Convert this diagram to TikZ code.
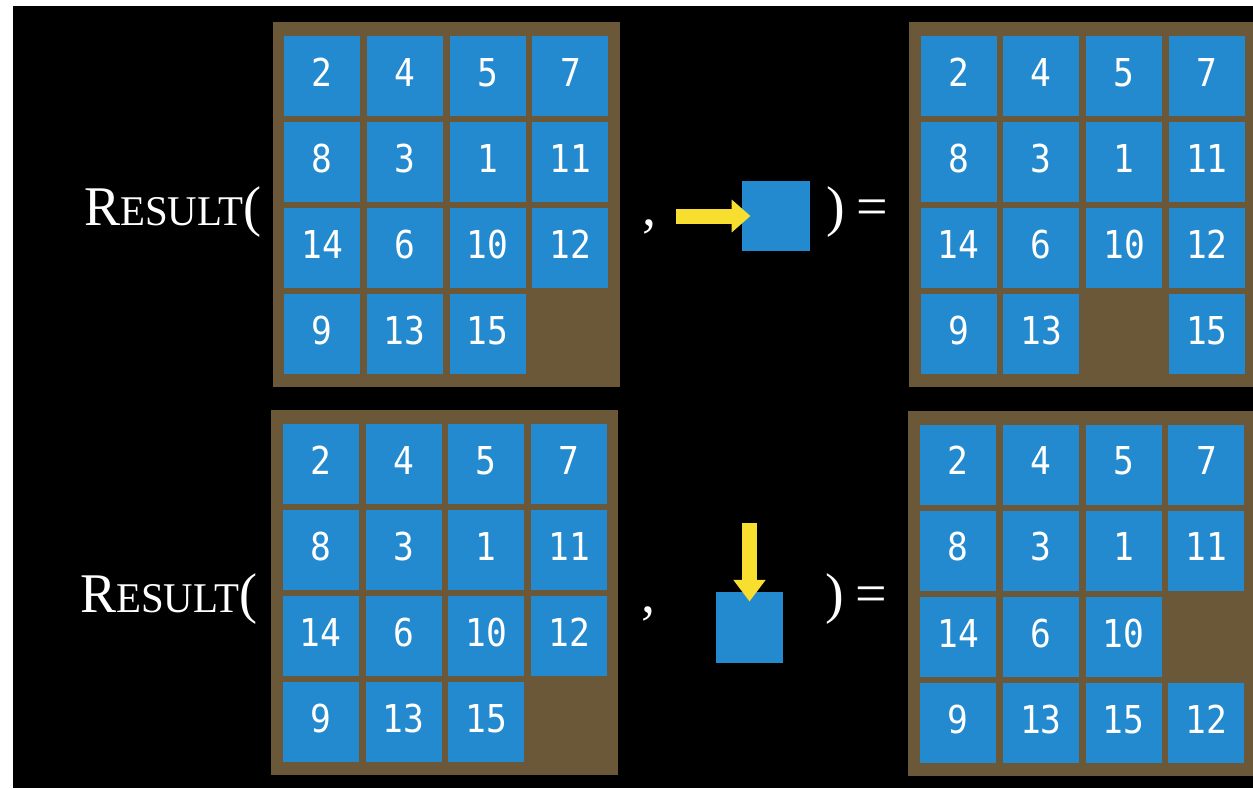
\documentclass[tikz,border=0pt]{standalone}
\usepackage{fontspec}
\usetikzlibrary{arrows.meta}
\newfontfamily\numfont[FakeStretch=0.9]{DejaVu Sans Mono}
\newfontfamily\eqfont{Liberation Serif}
\definecolor{tileblue}{RGB}{35,138,208}
\definecolor{boardbrown}{RGB}{106,88,56}
\definecolor{arrowyellow}{RGB}{248,222,46}
\newcommand\puzzleboard[6]{%
  \node[board] (#1) at (#2,#3) {};
  \foreach \n [count=\i from 0] in {#6} {
    \pgfmathtruncatemacro\rr{div(\i,4)}
    \pgfmathtruncatemacro\cc{mod(\i,4)}
    \ifnum\n=0\relax\else
      \node[tile] (#1-\rr-\cc) at ({#4+82.8*\cc},{#5+86.1*\rr}) {\n};
    \fi
  }%
}
\newcommand\resultword{\scalebox{0.965}[1]{{\fontsize{56pt}{60pt}\selectfont R}{\fontsize{42.3pt}{45pt}\selectfont ESULT}{\fontsize{56pt}{60pt}\selectfont (}}}
\begin{document}
\begin{tikzpicture}[x=1pt,y=-1pt,
  board/.style={fill=boardbrown, draw=none, inner sep=0pt, minimum width=347pt, minimum height=365pt},
  tile/.style={fill=tileblue, text=white, inner sep=0pt, minimum width=76pt, minimum height=80pt,
    font=\numfont\fontsize{38.4pt}{40pt}\selectfont, text height=28pt, text depth=7.4pt},
  movesq/.style={fill=tileblue, draw=none, inner sep=0pt},
  eqtext/.style={text=white, inner sep=0pt, font=\eqfont\fontsize{56pt}{60pt}\selectfont},
  yarrow/.style={draw=arrowyellow, line width=15pt, -{Triangle[length=19pt,width=32pt]}}
]
\useasboundingbox (0,0) rectangle (1253,788);
\fill[white] (0,0) rectangle (1253,788);
\fill[black] (13,6) rectangle (1253,788);
\begin{scope}
\clip (13,6) rectangle (1253,788);
% top row
\puzzleboard{TL}{446.5}{204.5}{322}{76}{2,4,5,7,8,3,1,11,14,6,10,12,9,13,15,0}
\puzzleboard{TR}{1082.5}{204.5}{958.5}{76}{2,4,5,7,8,3,1,11,14,6,10,12,9,13,0,15}
% bottom row
\puzzleboard{BL}{444.5}{592.5}{320.7}{464}{2,4,5,7,8,3,1,11,14,6,10,12,9,13,15,0}
\puzzleboard{BR}{1081.5}{593}{958}{464.5}{2,4,5,7,8,3,1,11,14,6,10,0,9,13,15,12}
\end{scope}
% equation texts, top
\node[eqtext, anchor=base west] (res1) at (84,225) {\resultword};
\node[eqtext, anchor=base west] (comma1) at (642,225) {,};
\node[eqtext, anchor=base west] (rp1) at (826.5,225) {)};
\node[eqtext, anchor=base west] (eq1) at (856,225) {=};
% equation texts, bottom
\node[eqtext, anchor=base west] (res2) at (80,612) {\resultword};
\node[eqtext, anchor=base west] (comma2) at (641,612) {,};
\node[eqtext, anchor=base west] (rp2) at (825,612) {)};
\node[eqtext, anchor=base west] (eq2) at (855,612) {=};
% move squares and arrows
\node[movesq, minimum width=68pt, minimum height=70pt] (sq1) at (776,216) {};
\coordinate (ha0) at (676,216);
\draw[yarrow] (ha0) -- ([xshift=8.7pt]sq1.west);
\node[movesq, minimum width=67pt, minimum height=71pt] (sq2) at (749.5,627.5) {};
\coordinate (va0) at (749.5,523);
\draw[yarrow, -{Triangle[length=21.7pt,width=31pt]}, line width=14.3pt] (va0) -- ([yshift=-9.7pt]sq2.north);
\end{tikzpicture}
\end{document}
